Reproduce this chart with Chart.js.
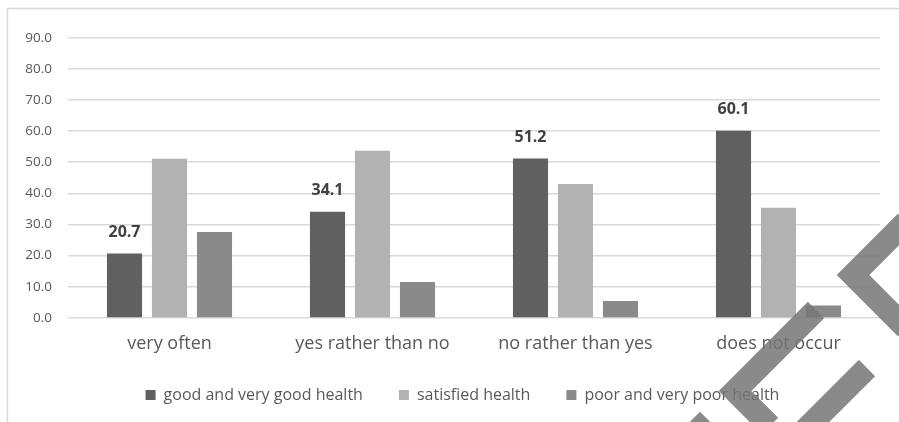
<!DOCTYPE html>
<html>
<head>
<meta charset="utf-8">
<script src="https://cdn.jsdelivr.net/npm/chart.js@4/dist/chart.umd.min.js"></script>
<style>
    html, body { margin: 0; padding: 0; background: #ffffff; }
    #box { width: 899px; height: 422px; }
</style>
</head>
<body>
<div id="box"><canvas id="myChart" width="899" height="422"></canvas></div>
<script>
// Données du graphique
var categories = ['very often', 'yes rather than no', 'no rather than yes', 'does not occur'];
var seriesNames = ['good and very good health', 'satisfied health', 'poor and very poor health'];
var bonneSante = [20.7, 34.1, 51.2, 60.1];
var satisfait = [51.1, 53.7, 43.0, 35.4];
var mauvaiseSante = [27.6, 11.5, 5.4, 4.0];
var couleurs = ['#606060', '#b2b2b2', '#8a8a8a'];
var yMin = 0, yMax = 90, yPas = 10;

// Traits gris en biais posés sur le coin en bas à droite
var traits = [
    [[906, 222], [853, 275], [906, 328]],
    [[816, 310], [735, 391], [770, 426]],
    [[867, 368], [805, 430]],
    [[684, 444], [700, 428], [716, 444]]
];

// Fond blanc et cadre gris clair
var cadre = {
    id: 'cadre',
    beforeDraw: function (chart) {
        var ctx = chart.ctx;
        ctx.save();
        ctx.fillStyle = '#ffffff';
        ctx.fillRect(0, 0, chart.width, chart.height);
        ctx.strokeStyle = '#d9d9d9';
        ctx.lineWidth = 1.5;
        ctx.strokeRect(7.5, 8.5, chart.width + 20, chart.height + 20);
        ctx.restore();
    }
};

// Décaler la légende (un peu à droite, un peu plus haut)
var decaleLegende = {
    id: 'decaleLegende',
    afterLayout: function (chart) {
        var l = chart.legend;
        l.left += 17.5;
        l.right += 17.5;
        l.top -= 19.5;
        l.bottom -= 19.5;
    }
};

// Valeurs en gras au-dessus des barres de la première série
var etiquettes = {
    id: 'etiquettes',
    afterDatasetsDraw: function (chart) {
        var ctx = chart.ctx;
        var meta = chart.getDatasetMeta(0);
        ctx.save();
        ctx.font = 'bold 16px "Open Sans"';
        ctx.fillStyle = '#404040';
        ctx.textAlign = 'center';
        ctx.textBaseline = 'middle';
        meta.data.forEach(function (bar, i) {
            ctx.fillText(bonneSante[i].toFixed(1), bar.x, bar.y - 21);
        });
        ctx.restore();
    }
};

var traitsGris = {
    id: 'traitsGris',
    afterDraw: function (chart) {
        var ctx = chart.ctx;
        ctx.save();
        ctx.strokeStyle = 'rgba(118,118,118,0.85)';
        ctx.lineWidth = 23;
        ctx.lineJoin = 'miter';
        ctx.lineCap = 'butt';
        traits.forEach(function (t) {
            ctx.beginPath();
            ctx.moveTo(t[0][0], t[0][1]);
            for (var i = 1; i < t.length; i++) ctx.lineTo(t[i][0], t[i][1]);
            ctx.stroke();
        });
        ctx.restore();
    }
};

var series = [bonneSante, satisfait, mauvaiseSante];
var datasets = [];
for (var i = 0; i < series.length; i++) {
    datasets.push({
        label: seriesNames[i],
        data: series[i],
        backgroundColor: couleurs[i],
        borderWidth: 0,
        categoryPercentage: 0.665,
        barPercentage: 0.78
    });
}

new Chart(document.getElementById('myChart').getContext('2d'), {
    type: 'bar',
    data: {
        labels: categories,
        datasets: datasets
    },
    options: {
        responsive: false,
        animation: false,
        devicePixelRatio: 1,
        layout: {
            padding: {left: 10, right: 19, top: 37.7, bottom: -10.5}
        },
        plugins: {
            tooltip: {enabled: false},
            legend: {
                position: 'bottom',
                labels: {
                    boxWidth: 10,
                    boxHeight: 10,
                    padding: 36,
                    color: '#595959',
                    font: {family: '"Open Sans"', size: 16}
                }
            }
        },
        scales: {
            x: {
                grid: {display: false, tickLength: 0},
                border: {display: false},
                ticks: {
                    padding: 15.5,
                    color: '#595959',
                    font: {family: '"Open Sans"', size: 18}
                }
            },
            y: {
                min: yMin,
                max: yMax,
                grid: {color: '#d9d9d9', lineWidth: 1.5, drawTicks: false},
                border: {display: false},
                ticks: {
                    stepSize: yPas,
                    padding: 16,
                    color: '#595959',
                    font: {family: '"Open Sans"', size: 13.5},
                    callback: function (v) { return v.toFixed(1); }
                },
                afterFit: function (scale) { scale.width = 58; }
            }
        }
    },
    plugins: [cadre, decaleLegende, etiquettes, traitsGris]
});
</script>
</body>
</html>
